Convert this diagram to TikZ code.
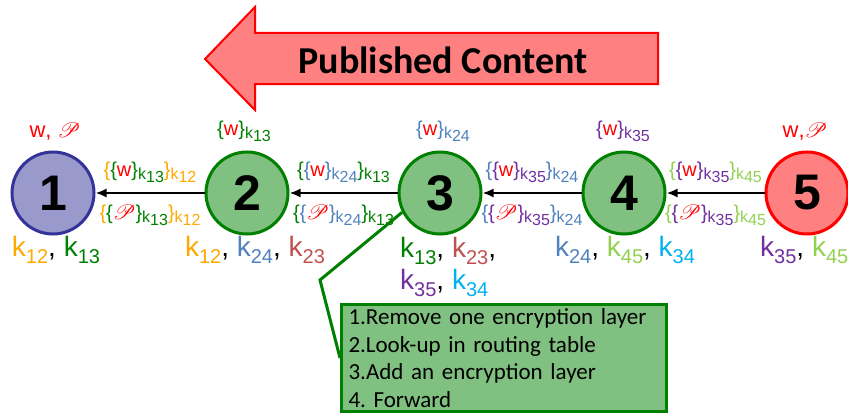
\documentclass[tikz,border=0pt]{standalone}
\usepackage{fontspec}
\setmainfont{Liberation Sans}
\newfontfamily\calibri{Carlito}
\usepackage{mathrsfs}
\usepackage{tikz}
\usetikzlibrary{arrows.meta}
\definecolor{korange}{RGB}{255,168,0}
\definecolor{kgreen}{RGB}{0,128,0}
\definecolor{kblue}{RGB}{79,129,189}
\definecolor{kbrown}{RGB}{192,80,77}
\definecolor{kpurple}{RGB}{112,48,160}
\definecolor{kcyan}{RGB}{0,176,240}
\definecolor{klime}{RGB}{146,208,80}
\definecolor{wred}{RGB}{255,0,0}
\definecolor{peerblue}{RGB}{153,153,204}
\definecolor{peerblueline}{RGB}{51,51,153}
\definecolor{peergreen}{RGB}{128,192,128}
\definecolor{peerred}{RGB}{255,128,128}
\frenchspacing
\newcommand{\msgw}{\textcolor{wred}{w}}
\newcommand{\msgp}{\textcolor{wred}{$\mathscr{P}$}}
\newcommand{\subkey}[2]{\textcolor{#1}{\raisebox{-0.35ex}{\fontsize{16}{16}\selectfont k\raisebox{-0.3ex}{#2}}}}
\newcommand{\enc}[3]{\textcolor{#2}{\{}#1\textcolor{#2}{\}}\subkey{#2}{#3}}
\newcommand{\key}[2]{\textcolor{#1}{k\raisebox{-0.45ex}{\fontsize{20}{20}\selectfont #2}}}
\tikzset{
    peer/.style={circle, draw, line width=3pt, minimum size=82, inner sep=0pt,
        font=\fontsize{50}{50}\selectfont\bfseries},
    hop/.style={-{Latex[length=11, width=9]}, line width=2pt},
    msg/.style={font=\fontsize{20}{20}\selectfont, inner sep=0pt},
    plain/.style={font=\fontsize{22}{22}\selectfont, inner sep=0pt},
    keys/.style={font=\fontsize{28}{32}\selectfont, inner sep=0pt},
    steps/.style={draw=kgreen, fill=peergreen, line width=3pt, anchor=north west,
        minimum width=325, minimum height=107, text width=311, align=left,
        inner xsep=7, inner ysep=0pt, font=\calibri\fontsize{23}{27.7}\selectfont}
}
\begin{document}
\begin{tikzpicture}[x=1pt, y=-1pt]
    \useasboundingbox (0,0) rectangle (848,412);

    % published content arrow
    \draw[wred, line width=2pt, fill=peerred]
        (205,59) -- (255,7) -- (255,33) -- (658,33) -- (658,84) -- (255,84) -- (255,110) -- cycle;
    \node[font=\calibri\fontsize{38}{38}\selectfont\bfseries] (pub) at (443,60) {Published Content};

    % peers
    \node[peer, draw=peerblueline, fill=peerblue] (p1) at (53,193) {1};
    \node[peer, draw=kgreen, fill=peergreen] (p2) at (247,193) {2};
    \node[peer, draw=kgreen, fill=peergreen] (p3) at (440,193) {3};
    \node[peer, draw=kgreen, fill=peergreen] (p4) at (624,193) {4};
    \node[peer, draw=wred, fill=peerred] (p5) at (807,193) {5};

    % what each peer holds
    \node[plain] (c1) at (55,132) {\msgw\textcolor{wred}{,} \msgp};
    \node[msg] (c2) at (244,131) {\enc{\msgw}{kgreen}{13}};
    \node[msg] (c3) at (443,131) {\enc{\msgw}{kblue}{24}};
    \node[msg] (c4) at (623,131) {\enc{\msgw}{kpurple}{35}};
    \node[plain] (c5) at (805,132) {\msgw\textcolor{wred}{,}\msgp};

    % forwarding
    \draw[hop] (p2) -- node[msg, midway, yshift=21] (m21) {\enc{\enc{\msgw}{kgreen}{13}}{korange}{12}}
                       node[msg, midway, yshift=-22] (n21) {\enc{\enc{\msgp}{kgreen}{13}}{korange}{12}} (p1);
    \draw[hop] (p3) -- node[msg, midway, yshift=21] (m32) {\enc{\enc{\msgw}{kblue}{24}}{kgreen}{13}}
                       node[msg, midway, yshift=-22] (n32) {\enc{\enc{\msgp}{kblue}{24}}{kgreen}{13}} (p2);
    \draw[hop] (p4) -- node[msg, midway, yshift=21] (m43) {\enc{\enc{\msgw}{kpurple}{35}}{kblue}{24}}
                       node[msg, midway, yshift=-22] (n43) {\enc{\enc{\msgp}{kpurple}{35}}{kblue}{24}} (p3);
    \draw[hop] (p5) -- node[msg, midway, yshift=21] (m54) {\enc{\enc{\msgw}{kpurple}{35}}{klime}{45}}
                       node[msg, midway, yshift=-22] (n54) {\enc{\enc{\msgp}{kpurple}{35}}{klime}{45}} (p4);

    % keys
    \node[keys] (k1) at (56,250) {\key{korange}{12}, \key{kgreen}{13}};
    \node[keys] (k2) at (255,250) {\key{korange}{12}, \key{kblue}{24}, \key{kbrown}{23}};
    \node[keys, anchor=west, align=left] (k3) at (400,267)
        {\key{kgreen}{13}, \key{kbrown}{23},\\\key{kpurple}{35}, \key{kcyan}{34}};
    \node[keys] (k4) at (625,250) {\key{kblue}{24}, \key{klime}{45}, \key{kcyan}{34}};
    \node[keys, anchor=west] (k5) at (760,250) {\key{kpurple}{35}, \key{klime}{45}};

    % what a relay does
    \node[steps] (todo) at (340,303) {1.Remove one encryption layer\\2.Look-up in routing table\\3.Add an encryption layer\\4. Forward};
    \coordinate (bend) at (320,280);
    \draw[kgreen, line width=3pt] (p3.207) -- (bend) -- (todo.west);
\end{tikzpicture}
\end{document}
